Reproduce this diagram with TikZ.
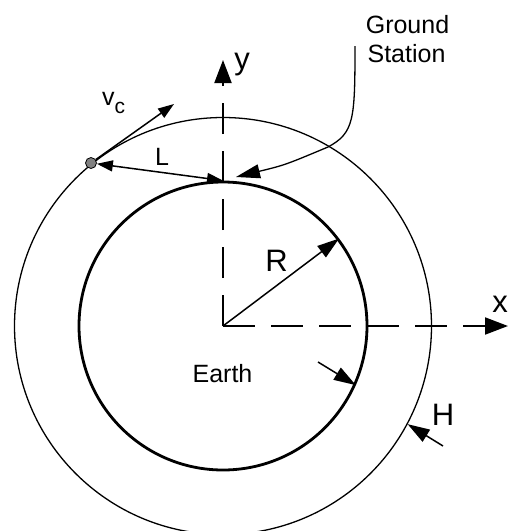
\documentclass[tikz,border=0pt]{standalone}
\usepackage{fontspec}
\setmainfont{Liberation Sans}
\usetikzlibrary{arrows.meta}
\begin{document}
\begin{tikzpicture}[x=1pt,y=-1pt,
  axisline/.style={line width=2pt, dash pattern=on 31.5pt off 16.5pt, -{Triangle[length=23pt,width=17pt]}},
  bigarrow/.style={line width=1.5pt, -{Triangle[length=22pt,width=14pt]}},
  smallarrow/.style={line width=1.5pt, -{Triangle[length=16pt,width=11pt]}},
  lbl/.style={inner sep=0pt, font=\fontsize{25}{29}\selectfont},
  biglbl/.style={inner sep=0pt, font=\fontsize{31}{36}\selectfont},
]
\useasboundingbox (0,0) rectangle (508,531);

\coordinate (O) at (223,326);
\coordinate (xend) at (508,326);
\coordinate (yend) at (223,60);
\coordinate (vtip) at (174,104);
\coordinate (gsstart) at (355,46);
\coordinate (gsbend) at (328,147);
\coordinate (gstip) at (236,177);
\coordinate (etail) at (318,362);
\coordinate (htail) at (443,446);

% circles
\node[circle, draw, line width=1.3pt, minimum size=417pt, inner sep=0pt] (orbit) at (O) {};
\node[circle, draw, line width=2.8pt, minimum size=288pt, inner sep=0pt] (earth) at (O) {};

% axes
\draw[axisline] (O) -- (xend);
\draw[axisline] (O) -- (yend);

% satellite
\node[circle, draw, fill=gray, minimum size=11pt, inner sep=0pt, line width=0.8pt] (sat) at (91,163) {};

% arrows
\draw[smallarrow] (sat) -- (vtip);
\draw[line width=1.5pt, {Triangle[length=16pt,width=11pt]}-{Triangle[length=16pt,width=11pt]}] (sat) -- (earth.north);
\draw[bigarrow] (O) -- (earth.37);
\draw[bigarrow] (etail) -- (earth.-24);
\draw[bigarrow] (htail) -- (orbit.-28);
\draw[line width=1.3pt, -{Triangle[length=24pt,width=14pt]}]
  (gsstart) .. controls (355,120) and (354,133) .. (gsbend)
  .. controls (285,165) .. (gstip);

% labels
\node[biglbl, anchor=base] (ylab) at (242,69) {y};
\node[biglbl, anchor=base] (xlab) at (500,312) {x};
\node[biglbl, anchor=base] (Rlab) at (276.5,271) {R};
\node[biglbl, anchor=base] (Hlab) at (443,425) {H};
\node[lbl, anchor=base] (earthlab) at (222.5,382) {Earth};
\node[lbl, anchor=base] (Llab) at (162,165) {L};
\node[lbl, anchor=base west] (vclab) at (102,105) {v\raisebox{-8pt}{\fontsize{21}{21}\selectfont c}};
\node[lbl, anchor=base] (gs1) at (407.5,33) {Ground};
\node[lbl, anchor=base] (gs2) at (406.5,62) {Station};
\end{tikzpicture}
\end{document}
